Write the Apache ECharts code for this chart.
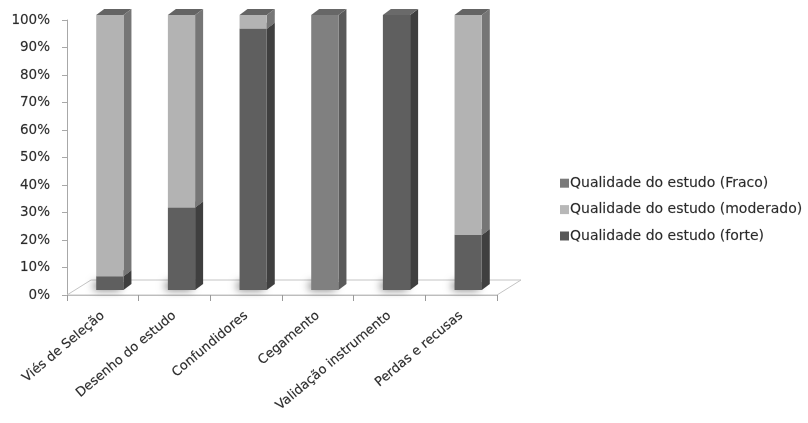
<!DOCTYPE html>
<html>
<head>
<meta charset="utf-8">
<script src="https://cdn.jsdelivr.net/npm/echarts@6/dist/echarts.min.js"></script>
<style>
  html, body { margin: 0; padding: 0; background: #ffffff; }
  #chart { width: 808px; height: 423px; }
</style>
</head>
<body>
<div id="chart"></div>
<script>
// Study quality ratings per criterion (percent of studies)
const categories = ['Viés de Seleção', 'Desenho do estudo', 'Confundidores', 'Cegamento', 'Validação instrumento', 'Perdas e recusas'];
const forte    = [5, 30, 95, 0, 100, 20];
const moderado = [95, 70, 5, 0, 0, 80];
const fraco    = [0, 0, 0, 100, 0, 0];
const yTicks = [0, 10, 20, 30, 40, 50, 60, 70, 80, 90, 100];

const seriesNames = ['Qualidade do estudo (forte)', 'Qualidade do estudo (moderado)', 'Qualidade do estudo (Fraco)'];
const stacks = [forte, moderado, fraco];

// shading for front / side / top faces of the 3D columns
const shades = [
  { front: '#5f5f5f', side: '#3f3f3f', top: '#6a6a6a', icon: '#595959' },
  { front: '#b3b3b3', side: '#767676', top: '#646464', icon: '#b8b8b8' },
  { front: '#808080', side: '#5a5a5a', top: '#676767', icon: '#7a7a7a' }
];

// grid geometry
const G = { left: 67, right: 311, top: 20, bottom: 128 };
const plotW = 808 - G.left - G.right;
const baseY = 423 - G.bottom;
const DEPTH = { x: 8, y: 6 };      // column depth
const SHIFT = { x: 7, y: -5 };     // columns sit a little behind the floor edge
const FLOOR = { x: 24, y: -15 };   // floor depth

// stacked segments [categoryIndex, start, end]
function segments(k) {
  return categories.map((c, i) => {
    let start = 0;
    for (let j = 0; j < k; j++) start += stacks[j][i];
    return [i, start, start + stacks[k][i]];
  });
}

function renderColumn(shade) {
  return function (params, api) {
    const idx = api.value(0);
    const s = api.value(1), e = api.value(2);
    if (e - s <= 0) return null;
    const band = api.size([1, 0])[0];
    const w = band * 0.38;
    const cx = api.coord([idx, 0])[0] + SHIFT.x;
    const yb = api.coord([idx, s])[1] + SHIFT.y;
    const yt = api.coord([idx, e])[1] + SHIFT.y;
    const x0 = cx - w / 2, x1 = cx + w / 2;
    const children = [];
    if (s === 0) {
      // soft shadow on the floor; the casting block hides behind the column
      children.push({
        type: 'rect',
        shape: { x: x0 + 1, y: yb - 8, width: w - 1, height: 8 },
        style: { fill: '#555555', shadowBlur: 9, shadowColor: 'rgba(0,0,0,0.55)', shadowOffsetX: -3, shadowOffsetY: 0 }
      });
    }
    children.push(
      { type: 'polygon', shape: { points: [[x1, yb], [x1 + DEPTH.x, yb - DEPTH.y], [x1 + DEPTH.x, yt - DEPTH.y], [x1, yt]] },
        style: { fill: shade.side } },
      { type: 'polygon', shape: { points: [[x0, yt], [x1, yt], [x1 + DEPTH.x, yt - DEPTH.y], [x0 + DEPTH.x, yt - DEPTH.y]] },
        style: { fill: shade.top } },
      { type: 'rect', shape: { x: x0, y: yt, width: w, height: yb - yt },
        style: { fill: shade.front } }
    );
    return { type: 'group', children: children };
  };
}

const chart = echarts.init(document.getElementById('chart'), null, { renderer: 'canvas' });

const series = stacks.map((arr, k) => ({
  name: seriesNames[k],
  type: 'custom',
  renderItem: renderColumn(shades[k]),
  encode: { x: 0, y: [1, 2] },
  itemStyle: { color: shades[k].icon },
  data: segments(k),
  z: 3
}));

const textCommon = { fontFamily: 'DejaVu Sans', color: '#2a2a2a', textBorderColor: 'rgba(40,40,40,0.35)', textBorderWidth: 0.4 };

chart.setOption({
  animation: false,
  backgroundColor: '#ffffff',
  graphic: [
    {
      type: 'polygon',
      z: 1,
      shape: { points: [
        [G.left, baseY], [G.left + plotW, baseY],
        [G.left + plotW + FLOOR.x, baseY + FLOOR.y], [G.left + FLOOR.x, baseY + FLOOR.y]
      ] },
      style: { fill: '#ffffff', stroke: '#c4c4c4', lineWidth: 1 }
    }
  ],
  legend: {
    orient: 'vertical',
    left: 555,
    top: 171,
    itemWidth: 9,
    itemHeight: 9,
    itemGap: 12,
    icon: 'rect',
    data: [seriesNames[2], seriesNames[1], seriesNames[0]],
    textStyle: Object.assign({ fontSize: 14, padding: [0, 0, 0, -4] }, textCommon)
  },
  grid: { left: G.left, right: G.right, top: G.top, bottom: G.bottom, containLabel: false },
  xAxis: {
    type: 'category',
    data: categories,
    boundaryGap: true,
    axisLine: { show: true, lineStyle: { color: '#bdbdbd', width: 1 } },
    axisTick: { show: true, length: 6, lineStyle: { color: '#9a9a9a' } },
    axisLabel: Object.assign({
      rotate: 40,
      interval: 0,
      margin: 19,
      fontSize: 13
    }, textCommon),
    splitLine: { show: false },
    z: 2
  },
  yAxis: {
    type: 'value',
    min: yTicks[0],
    max: yTicks[yTicks.length - 1],
    interval: 10,
    axisLine: { show: true, lineStyle: { color: '#a8a8a8', width: 1 } },
    axisTick: { show: true, length: 5, lineStyle: { color: '#a8a8a8' } },
    axisLabel: Object.assign({
      formatter: '{value}%',
      margin: 17,
      fontSize: 13.5
    }, textCommon),
    splitLine: { show: false }
  },
  series: series
});
</script>
</body>
</html>
